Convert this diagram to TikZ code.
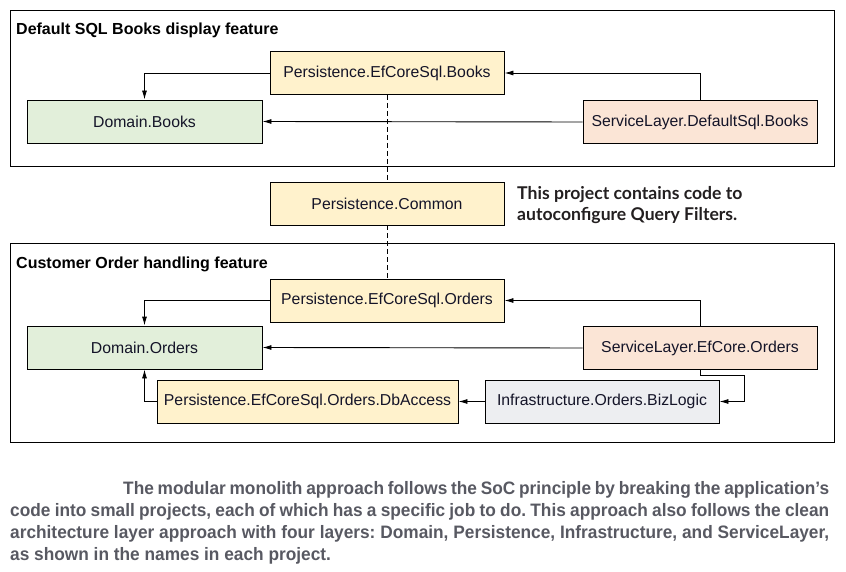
\documentclass[tikz,border=0pt]{standalone}
\usepackage{fontspec}
\setmainfont{Liberation Sans}
\newfontfamily\notefont{Lato}
\newfontfamily\capfont[FakeStretch=0.96]{Liberation Sans}
\usetikzlibrary{arrows.meta,calc}
\definecolor{persY}{RGB}{255,242,204}
\definecolor{domG}{RGB}{226,239,218}
\definecolor{servP}{RGB}{251,229,214}
\definecolor{infraG}{RGB}{237,238,241}
\definecolor{boxtext}{RGB}{20,20,40}
\definecolor{captext}{RGB}{88,89,98}
\definecolor{notetext}{RGB}{35,31,32}
\begin{document}
\frenchspacing
\begin{tikzpicture}[x=1pt,y=-1pt,
  proj/.style={draw, line width=0.9pt, minimum height=43pt, inner sep=0pt,
    text=boxtext, font=\fontsize{15.8}{18}\selectfont},
  frame/.style={draw, line width=0.9pt},
  arr/.style={draw, line width=0.9pt, -{Latex[length=9pt,width=5pt]}},
  dep/.style={draw, line width=0.8pt, dash pattern=on 5pt off 3pt},
  title/.style={anchor=base west, inner sep=0pt, font=\bfseries\fontsize{16}{18}\selectfont},
  note/.style={anchor=base west, inner sep=0pt, text=notetext, font=\notefont\bfseries\fontsize{17.6}{20}\selectfont},
  capline/.style={anchor=base west, inner sep=0pt, text=captext, font=\capfont\bfseries\fontsize{18}{20}\selectfont}]
\useasboundingbox (0,0) rectangle (846,572);
% frames
\draw[frame] (10,10) rectangle (834,166);
\draw[frame] (10,243) rectangle (834,442);
\node[title] (t1) at (16,35) {Default SQL Books display feature};
\node[title] (t2) at (16,268) {Customer Order handling feature};
% top feature
\node[proj, fill=persY, minimum width=234pt] (pb) at (387,73) {Persistence.EfCoreSql.Books};
\node[proj, fill=domG, minimum width=235pt] (db) at (144.5,121.5) {Domain.Books};
\node[proj, fill=servP, minimum width=234pt] (sb) at (700,122) {ServiceLayer.DefaultSql.Books};
% common
\node[proj, fill=persY, minimum width=234pt] (pc) at (387,203.5) {Persistence.Common};
\node[note] (n1) at (517,200) {This project contains code to};
\node[note] (n2) at (517,221) {autoconfigure Query Filters.};
% bottom feature
\node[proj, fill=persY, minimum width=234pt] (po) at (387,300.5) {Persistence.EfCoreSql.Orders};
\node[proj, fill=domG, minimum width=235pt] (do) at (144.5,347.5) {Domain.Orders};
\node[proj, fill=servP, minimum width=234pt] (so) at (700,348) {ServiceLayer.EfCore.Orders};
\node[proj, fill=persY, minimum width=301pt] (da) at (307.5,401.5) {Persistence.EfCoreSql.Orders.DbAccess};
\node[proj, fill=infraG, minimum width=234pt] (bl) at (602,401.5) {Infrastructure.Orders.BizLogic};
\coordinate (k1) at (744,375);
\coordinate (k2) at (744,401.5);
% connectors top
\draw[arr] (pb.west) -| (db.north);
\draw[arr] (sb.north) |- (pb.east);
\draw[arr] (sb.west) -- (db.east);
% dashed
\draw[dep] (pb.south) -- (pc.north);
\draw[dep] (pc.south) -- (po.north);
% connectors bottom
\draw[arr] (po.west) -| (do.north);
\draw[arr] (so.north) |- (po.east);
\draw[arr] (so.west) -- (do.east);
\draw[arr] (so.south) |- (k1) -- (k2) -- (bl.east);
\draw[arr] (bl.west) -- (da.east);
\draw[arr] (da.west) -| (do.south);
% caption
\node[capline] (c1) at (123,494) {\makebox[706pt][s]{The modular monolith approach follows the SoC principle by breaking the application’s}};
\node[capline] (c2) at (10,516) {\makebox[819pt][s]{code into small projects, each of which has a specific job to do. This approach also follows the clean}};
\node[capline] (c3) at (10,538) {\makebox[819pt][s]{architecture layer approach with four layers: Domain, Persistence, Infrastructure, and ServiceLayer,}};
\node[capline] (c4) at (10,560) {as shown in the names in each project.};
\end{tikzpicture}
\end{document}
